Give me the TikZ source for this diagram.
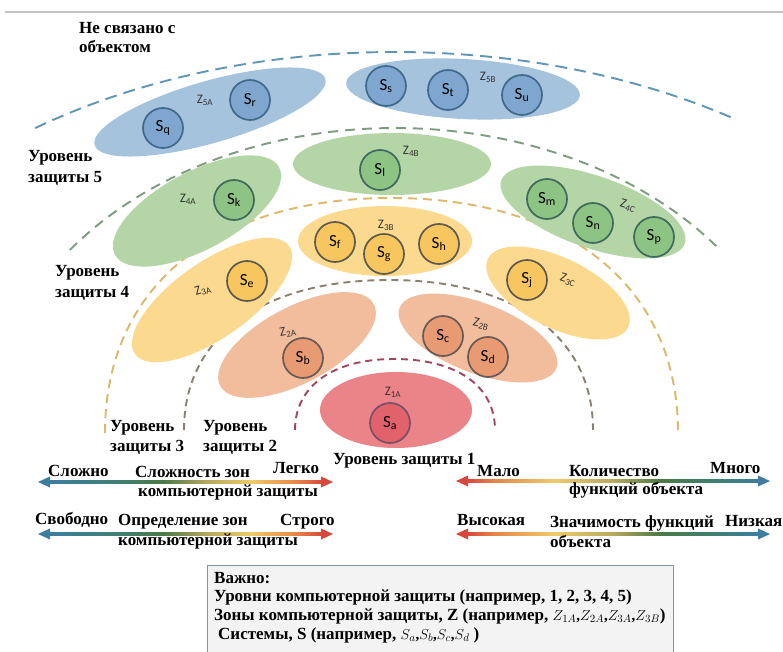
\documentclass[tikz,border=0pt]{standalone}
\usepackage{fontspec}
\setmainfont{Liberation Serif}
\newfontfamily\zsans{Carlito}
\usetikzlibrary{shapes.geometric,calc}
\definecolor{zB}{HTML}{A6C3DD}
\definecolor{cB}{HTML}{7EA6CE}
\definecolor{bB}{HTML}{3F6A8C}
\definecolor{zG}{HTML}{B4D6A6}
\definecolor{cG}{HTML}{8DC383}
\definecolor{bG}{HTML}{3F6A5E}
\definecolor{zY}{HTML}{FBD98E}
\definecolor{cY}{HTML}{F8C65E}
\definecolor{bY}{HTML}{5E5A4E}
\definecolor{zO}{HTML}{F2BD9D}
\definecolor{cO}{HTML}{E89A72}
\definecolor{bO}{HTML}{6A5A55}
\definecolor{zR}{HTML}{EA8489}
\definecolor{cR}{HTML}{E2626C}
\definecolor{bR}{HTML}{7A5066}
\definecolor{lA}{HTML}{A3455A}
\definecolor{lB}{HTML}{8A8070}
\definecolor{lC}{HTML}{DDB86A}
\definecolor{lD}{HTML}{7E9A80}
\definecolor{lE}{HTML}{5F96B6}
\definecolor{arB}{HTML}{3E7CA0}
\definecolor{arT}{HTML}{3F7F70}
\definecolor{arG}{HTML}{4A7A45}
\definecolor{arO}{HTML}{B8A860}
\definecolor{arY}{HTML}{EFCB6A}
\definecolor{arN}{HTML}{E4874A}
\definecolor{arR}{HTML}{D9463C}
\definecolor{boxf}{HTML}{F3F3F3}
\definecolor{boxd}{HTML}{8494A4}
\definecolor{topl}{HTML}{C4C4C4}
\pgfdeclarehorizontalshading{bgyr}{100bp}{color(0bp)=(arB); color(25bp)=(arB); color(38bp)=(arT); color(46bp)=(arG); color(54bp)=(arO); color(62bp)=(arY); color(70bp)=(arN); color(75bp)=(arR); color(100bp)=(arR)}
\pgfdeclarehorizontalshading{rygb}{100bp}{color(0bp)=(arR); color(25bp)=(arR); color(30bp)=(arN); color(40bp)=(arY); color(50bp)=(arO); color(58bp)=(arG); color(67bp)=(arT); color(75bp)=(arB); color(100bp)=(arB)}
\tikzset{
  zone/.style={ellipse, draw=none, inner sep=0pt},
  sys/.style={circle, minimum size=40pt, inner sep=0pt, line width=1.7pt, font=\zsans\fontsize{17}{17}\selectfont},
  zl/.style={font=\zsans\fontsize{13}{13}\selectfont, inner sep=0pt, text=black!80},
  lbl/.style={font=\fontsize{17}{19}\selectfont\bfseries, inner sep=0pt, anchor=west},
  lvl/.style={line width=1.9pt},
}
\begin{document}
\begin{tikzpicture}[x=1pt,y=-1pt]
\useasboundingbox (0,0) rectangle (783,652);
\fill[white] (0,0) rectangle (783,652);
% top rule
\coordinate (tl) at (5,12);
\coordinate (tr) at (783,12);
\draw[topl, line width=1.2pt] (tl) -- (tr);
% level arcs
\draw[lvl, lE, dash pattern=on 12pt off 7pt] plot[domain=127:55.5, samples=80] ({395+598*cos(\x)},{430-378*sin(\x)});
\draw[lvl, lD, dash pattern=on 10pt off 7pt] plot[domain=143.4:37.5, samples=80] ({395+405*cos(\x)},{430-302*sin(\x)});
\draw[lvl, lC, dash pattern=on 9pt off 6pt] (105,433) .. controls (105,287) and (214,198) .. (391,198) .. controls (569,198) and (678,287) .. (678,433);
\draw[lvl, lB, dash pattern=on 7pt off 5pt] (184,430) .. controls (184,337) and (262,280) .. (389,280) .. controls (516,280) and (593,337) .. (593,430);
\draw[lvl, lA, dash pattern=on 7pt off 5pt] (295,430) .. controls (295,386) and (333,359) .. (394,359) .. controls (457,359) and (495,386) .. (495,430);
% zones
\node[zone, fill=zB, minimum width=240pt, minimum height=62pt, rotate=16] (z5a) at (210,112) {};
\node[zone, fill=zB, minimum width=234pt, minimum height=60pt, rotate=-3] (z5b) at (463,89) {};
\node[zone, fill=zG, minimum width=186pt, minimum height=78pt, rotate=28] (z4a) at (197,211) {};
\node[zone, fill=zG, minimum width=198pt, minimum height=62pt] (z4b) at (392,164) {};
\node[zone, fill=zG, minimum width=194pt, minimum height=72pt, rotate=-19] (z4c) at (593,212) {};
\node[zone, fill=zY, minimum width=188pt, minimum height=76pt, rotate=35] (z3a) at (212,300) {};
\node[zone, fill=zY, minimum width=174pt, minimum height=70pt] (z3b) at (385,241) {};
\node[zone, fill=zY, minimum width=156pt, minimum height=70pt, rotate=-26] (z3c) at (558,293) {};
\node[zone, fill=zO, minimum width=174pt, minimum height=76pt, rotate=28] (z2a) at (297,345) {};
\node[zone, fill=zO, minimum width=168pt, minimum height=70pt, rotate=-21] (z2b) at (478,338) {};
\node[zone, fill=zR, minimum width=152pt, minimum height=76pt] (z1a) at (396,410) {};
% systems
\node[sys, fill=cB, draw=bB] (sq) at (163,128) {S\textsubscript{q}};
\node[sys, fill=cB, draw=bB] (sr) at (250,100) {S\textsubscript{r}};
\node[sys, fill=cB, draw=bB] (ss) at (386,86) {S\textsubscript{s}};
\node[sys, fill=cB, draw=bB] (st) at (448,90) {S\textsubscript{t}};
\node[sys, fill=cB, draw=bB] (su) at (522,95) {S\textsubscript{u}};
\node[sys, fill=cG, draw=bG] (sk) at (234,200) {S\textsubscript{k}};
\node[sys, fill=cG, draw=bG] (sl) at (380,170) {S\textsubscript{l}};
\node[sys, fill=cG, draw=bG] (sm) at (547,199) {S\textsubscript{m}};
\node[sys, fill=cG, draw=bG] (sn) at (593,223) {S\textsubscript{n}};
\node[sys, fill=cG, draw=bG] (sp) at (654,237) {S\textsubscript{p}};
\node[sys, fill=cY, draw=bY] (se) at (247,281) {S\textsubscript{e}};
\node[sys, fill=cY, draw=bY] (sf) at (335,242) {S\textsubscript{f}};
\node[sys, fill=cY, draw=bY] (sg) at (384,254) {S\textsubscript{g}};
\node[sys, fill=cY, draw=bY] (sh) at (439,244) {S\textsubscript{h}};
\node[sys, fill=cY, draw=bY] (sj) at (527,280) {S\textsubscript{j}};
\node[sys, fill=cO, draw=bO] (sb) at (303,358) {S\textsubscript{b}};
\node[sys, fill=cO, draw=bO] (sc) at (443,336) {S\textsubscript{c}};
\node[sys, fill=cO, draw=bO] (sd) at (488,357) {S\textsubscript{d}};
\node[sys, fill=cR, draw=bR] (sa) at (390,423) {S\textsubscript{a}};
% zone labels
\node[zl] (lz5a) at (205,100) {Z\textsubscript{5A}};
\node[zl] (lz5b) at (488,77) {Z\textsubscript{5B}};
\node[zl] (lz4a) at (188,199) {Z\textsubscript{4A}};
\node[zl] (lz4b) at (411,151) {Z\textsubscript{4B}};
\node[zl, rotate=-17] (lz4c) at (628,206) {Z\textsubscript{4C}};
\node[zl, rotate=17] (lz3a) at (203,290) {Z\textsubscript{3A}};
\node[zl] (lz3b) at (386,225) {Z\textsubscript{3B}};
\node[zl, rotate=-18] (lz3c) at (568,280) {Z\textsubscript{3C}};
\node[zl, rotate=10] (lz2a) at (288,332) {Z\textsubscript{2A}};
\node[zl, rotate=-14] (lz2b) at (481,324) {Z\textsubscript{2B}};
\node[zl] (lz1a) at (393,392) {Z\textsubscript{1A}};
% level labels
\node[lbl] (n1) at (79,28) {Не связано с};
\node[lbl] (n2) at (79,47) {объектом};
\node[lbl] (u5a) at (28,158) {Уровень};
\node[lbl] (u5b) at (28,178) {защиты 5};
\node[lbl] (u4a) at (55,273) {Уровень};
\node[lbl] (u4b) at (55,293) {защиты 4};
\node[lbl] (u3a) at (110,428) {Уровень};
\node[lbl] (u3b) at (110,447) {защиты 3};
\node[lbl] (u2a) at (203,428) {Уровень};
\node[lbl] (u2b) at (203,447) {защиты 2};
\node[lbl] (u1) at (333,461) {Уровень защиты 1};
% arrows
\coordinate (a1l) at (38,482); \coordinate (a1r) at (333,482);
\coordinate (a2l) at (38,534); \coordinate (a2r) at (333,534);
\coordinate (a3l) at (456,481); \coordinate (a3r) at (770,481);
\coordinate (a4l) at (456,534); \coordinate (a4r) at (770,534);
\shade[shading=bgyr] ($(a1l)+(10,-1.6)$) rectangle ($(a1r)+(-10,1.6)$);
\fill[arB] (a1l) -- ($(a1l)+(12,-5.5)$) -- ($(a1l)+(12,5.5)$) -- cycle;
\fill[arR] (a1r) -- ($(a1r)+(-12,-5.5)$) -- ($(a1r)+(-12,5.5)$) -- cycle;
\shade[shading=bgyr] ($(a2l)+(10,-1.6)$) rectangle ($(a2r)+(-10,1.6)$);
\fill[arB] (a2l) -- ($(a2l)+(12,-5.5)$) -- ($(a2l)+(12,5.5)$) -- cycle;
\fill[arR] (a2r) -- ($(a2r)+(-12,-5.5)$) -- ($(a2r)+(-12,5.5)$) -- cycle;
\shade[shading=rygb] ($(a3l)+(10,-1.6)$) rectangle ($(a3r)+(-10,1.6)$);
\fill[arR] (a3l) -- ($(a3l)+(12,-5.5)$) -- ($(a3l)+(12,5.5)$) -- cycle;
\fill[arB] (a3r) -- ($(a3r)+(-12,-5.5)$) -- ($(a3r)+(-12,5.5)$) -- cycle;
\shade[shading=rygb] ($(a4l)+(10,-1.6)$) rectangle ($(a4r)+(-10,1.6)$);
\fill[arR] (a4l) -- ($(a4l)+(12,-5.5)$) -- ($(a4l)+(12,5.5)$) -- cycle;
\fill[arB] (a4r) -- ($(a4r)+(-12,-5.5)$) -- ($(a4r)+(-12,5.5)$) -- cycle;
% arrow texts
\node[lbl] (t1a) at (48,471) {Сложно};
\node[lbl] (t1b) at (135,472) {Сложность зон};
\node[lbl] (t1c) at (273,468) {Легко};
\node[lbl] (t1d) at (138,492) {компьютерной защиты};
\node[lbl] (t2a) at (35,520) {Свободно};
\node[lbl] (t2b) at (118,522) {Определение зон};
\node[lbl] (t2c) at (280,522) {Строго};
\node[lbl] (t2d) at (118,541) {компьютерной защиты};
\node[lbl] (t3a) at (477,471) {Мало};
\node[lbl] (t3b) at (569,471) {Количество};
\node[lbl] (t3c) at (710,468) {Много};
\node[lbl] (t3d) at (569,490) {функций объекта};
\node[lbl] (t4a) at (457,520) {Высокая};
\node[lbl] (t4b) at (550,523) {Значимость функций};
\node[lbl] (t4c) at (725,521) {Низкая};
\node[lbl] (t4d) at (550,541) {объекта};
% legend box
\node[draw=boxd, fill=boxf, line width=1.2pt, minimum width=466pt, minimum height=100pt, anchor=north west, inner sep=0pt] (box) at (207,565) {};
\node[lbl] (b1) at (214,578) {Важно:};
\node[lbl] (b2) at (214,597) {Уровни компьютерной защиты (например, 1, 2, 3, 4, 5)};
\node[lbl] (b3) at (214,616) {Зоны компьютерной защиты, Z (например, {\fontsize{15}{15}\selectfont$Z_{1A}$,$Z_{2A}$,$Z_{3A}$,$Z_{3B}$})};
\node[lbl] (b4) at (218,635) {Системы, S (например, {\fontsize{15}{15}\selectfont$S_a$,$S_b$,$S_c$,$S_d$} )};
\end{tikzpicture}
\end{document}
